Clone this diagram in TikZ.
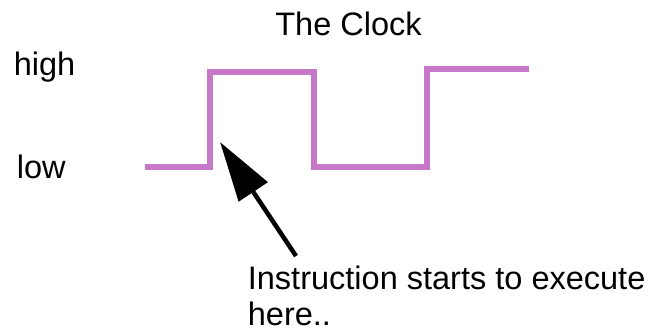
\documentclass[tikz,border=0pt]{standalone}
\usepackage{fontspec}
\setmainfont{Liberation Sans}
\usepackage{tikz}
\usetikzlibrary{arrows.meta}
\definecolor{clockline}{HTML}{C878C8}

\begin{document}
\begin{tikzpicture}[
  every node/.style={font=\fontsize{18.5}{20.4}\selectfont, inner sep=0pt},
  label/.style={anchor=base west},
  wave/.style={draw=clockline, line width=0.12cm, miter limit=10},
  pointer/.style={-{Triangle[length=1.2cm, width=0.68cm]}, line width=0.09cm},
]
  \useasboundingbox (0,0) rectangle (13,-6.64);

  \node[anchor=base] (title) at (6.97,-0.70) {The Clock};
  \node[label] (high) at (0.27,-1.50) {high};
  \node[label] (low) at (0.33,-3.56) {low};
  \node[label, align=left] (note) at (4.95,-6.50) {Instruction starts to execute\\here..};

  % clock signal
  \draw[wave] (2.90,-3.34) -- (4.20,-3.34) -- (4.20,-1.44) -- (6.28,-1.44)
    -- (6.28,-3.34) -- (8.54,-3.34) -- (8.54,-1.38) -- (10.58,-1.38);

  \coordinate (edge) at (4.40,-2.84);
  \coordinate (tail) at (5.92,-5.12);
  \draw[pointer] (tail) -- (edge);
\end{tikzpicture}
\end{document}
